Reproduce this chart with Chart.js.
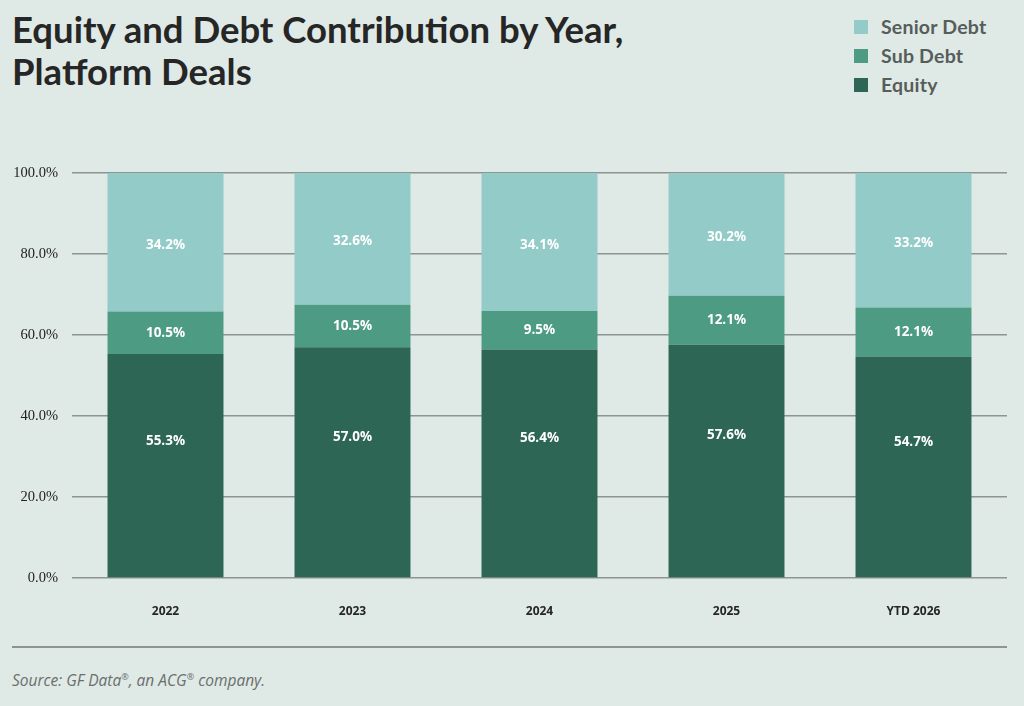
<!DOCTYPE html>
<html>
<head>
<meta charset="utf-8">
<script src="https://cdn.jsdelivr.net/npm/chart.js@4.4.0/dist/chart.umd.min.js"></script>
<style>
  body { margin: 0; width: 1024px; height: 706px; background: #dfe9e5; position: relative; overflow: hidden; font-family: Lato, "Open Sans", sans-serif; }
  #title { position: absolute; left: 12px; top: 8px; font-size: 36.5px; font-weight: 700; line-height: 42px; color: #262626; }
  #legend { position: absolute; left: 854px; top: 12px; }
  .item { height: 29px; display: flex; align-items: center; font-size: 19.5px; font-weight: 700; color: #565d5b; letter-spacing: 0.2px; }
  .item span { display: inline-block; width: 14px; height: 14px; margin-right: 13px; }
  #wrap { position: absolute; left: 0; top: 150px; width: 1024px; height: 480px; }
  #rule { position: absolute; left: 12px; top: 646px; width: 995px; height: 2px; background: #8d9491; }
  #source { position: absolute; left: 12px; top: 669px; font-size: 15.5px; font-style: italic; color: #6a6f6e; font-family: "Open Sans", sans-serif; }
</style>
</head>
<body>
<div id="title">Equity and Debt Contribution by Year,<br>Platform Deals</div>
<div id="legend"></div>
<div id="wrap"><canvas id="myChart"></canvas></div>
<div id="rule"></div>
<div id="source">Source: GF Data<sup style="font-size:9px">®</sup>, an ACG<sup style="font-size:9px">®</sup> company.</div>
<script>
const years = ['2022', '2023', '2024', '2025', 'YTD 2026'];
const equity = [55.3, 57.0, 56.4, 57.6, 54.7];
const subDebt = [10.5, 10.5, 9.5, 12.1, 12.1];
const seniorDebt = [34.2, 32.6, 34.1, 30.2, 33.2];
const yTicks = [0, 20, 40, 60, 80, 100];

const colors = { senior: '#93cbc8', sub: '#4e9b84', equity: '#2e6656' };

// legend, top to bottom
const legendItems = [['Senior Debt', colors.senior], ['Sub Debt', colors.sub], ['Equity', colors.equity]];
document.getElementById('legend').innerHTML = legendItems.map(function (it) {
  return '<div class="item"><span style="background:' + it[1] + '"></span>' + it[0] + '</div>';
}).join('');

// white value labels inside each segment
const segmentLabels = {
  id: 'segmentLabels',
  afterDatasetsDraw(chart) {
    const c = chart.ctx;
    c.save();
    c.fillStyle = '#ffffff';
    c.font = '700 13.5px "Open Sans", sans-serif';
    c.textAlign = 'center';
    c.textBaseline = 'middle';
    chart.data.datasets.forEach(function (ds, i) {
      const meta = chart.getDatasetMeta(i);
      meta.data.forEach(function (bar, j) {
        const f = ds.labelAt || 0.5;
        const y = bar.y + (bar.base - bar.y) * f;
        c.fillText(ds.data[j].toFixed(1) + '%', bar.x, y);
      });
    });
    c.restore();
  }
};

const data = {
  labels: years,
  datasets: [
    { label: 'Equity', data: equity, backgroundColor: colors.equity, labelAt: 0.39 },
    { label: 'Sub Debt', data: subDebt, backgroundColor: colors.sub },
    { label: 'Senior Debt', data: seniorDebt, backgroundColor: colors.senior, labelAt: 0.52 }
  ]
};

const config = {
  type: 'bar',
  data,
  options: {
    responsive: true,
    maintainAspectRatio: false,
    animation: false,
    datasets: { bar: { barPercentage: 0.62, categoryPercentage: 1 } },
    layout: { padding: { top: 23, right: 17, bottom: 0, left: 0 } },
    plugins: { legend: { display: false }, tooltip: { enabled: false } },
    scales: {
      x: {
        stacked: true,
        grid: { display: false },
        border: { display: false },
        ticks: { color: '#262626', font: { family: 'Open Sans', size: 12, weight: '700' }, padding: 18 },
        afterFit(scale) { scale.height = 52; }
      },
      y: {
        stacked: true,
        min: 0,
        max: 100,
        afterBuildTicks(scale) { scale.ticks = yTicks.map(function (v) { return { value: v }; }); },
        grid: { color: '#8d9491', lineWidth: 1.5, drawTicks: false },
        border: { display: false },
        ticks: {
          color: '#222222',
          font: { family: 'Liberation Sans Narrow', size: 14.5 },
          padding: 14,
          callback: function (v) { return v.toFixed(1) + '%'; }
        },
        afterFit(scale) { scale.width = 72; }
      }
    }
  },
  plugins: [segmentLabels]
};

const myChart = new Chart(document.getElementById('myChart'), config);
</script>
</body>
</html>
